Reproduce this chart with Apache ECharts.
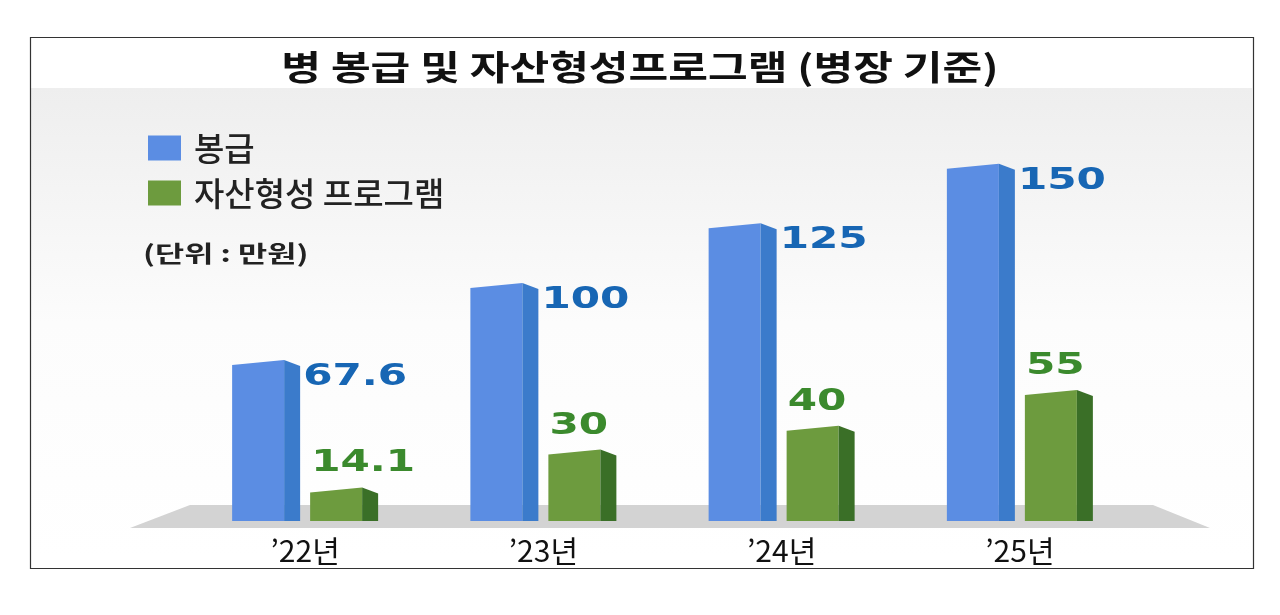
<!DOCTYPE html>
<html>
<head>
<meta charset="utf-8">
<script src="https://cdn.jsdelivr.net/npm/echarts@6/dist/echarts.min.js"></script>
<style>
  html, body { margin: 0; padding: 0; background: #fff; }
  #chart { width: 1280px; height: 615px; }
</style>
</head>
<body>
<div id="chart"></div>
<script>
// categories and values (unit: 만원)
const years = ["’22년", "’23년", "’24년", "’25년"];
const salary = [67.6, 100, 125, 150];
const assetProgram = [14.1, 30, 40, 55];
const seriesNames = ["봉급", "자산형성 프로그램"];

const KR = "'Noto Sans CJK KR', 'Noto Sans', sans-serif";

// pseudo 3D bar: front face + darker side face, label next to it
function bar3d(offset, frontColor, sideColor, labelColor, labelSide) {
  return function (params, api) {
    const idx = api.value(0);
    const peak = api.coord([idx, api.value(1)]);
    const base = api.coord([idx, 0]);
    const cx = peak[0];
    const left = cx + offset;
    const right = left + 52;
    const depth = 16;
    const y = peak[1];
    const b = base[1];
    const lbl = labelSide === "right"
      ? { x: right + depth + 3, y: y + 17 }
      : { x: left + 1, y: y - 24 };
    return {
      type: "group",
      children: [
        {
          type: "polygon",
          shape: { points: [[left, y + 5], [right, y], [right, b], [left, b]] },
          style: { fill: frontColor }
        },
        {
          type: "polygon",
          shape: { points: [[right, y], [right + depth, y + 6], [right + depth, b], [right, b]] },
          style: { fill: sideColor }
        },
        {
          type: "text",
          x: lbl.x,
          y: lbl.y,
          scaleX: 1.36,
          style: {
            text: String(api.value(1)),
            fill: labelColor,
            font: "bold 31px 'DejaVu Sans', sans-serif",
            textAlign: "left",
            textVerticalAlign: "middle"
          }
        }
      ]
    };
  };
}

const chart = echarts.init(document.getElementById("chart"));

const option = {
  backgroundColor: "#ffffff",
  animation: false,
  legend: {
    orient: "vertical",
    left: 143,
    top: 126,
    itemWidth: 33,
    itemHeight: 25,
    itemGap: 11,
    icon: "rect",
    textStyle: {
      fontFamily: KR, fontSize: 33, fontWeight: 500, color: "#222",
      lineHeight: 34, padding: [0, 0, 0, 8]
    },
    data: seriesNames
  },
  graphic: [
    {
      type: "rect",
      z: -10,
      shape: { x: 31, y: 88, width: 1221, height: 470 },
      style: {
        fill: {
          type: "linear", x: 0, y: 0, x2: 0, y2: 1,
          colorStops: [
            { offset: 0, color: "#eeeeee" },
            { offset: 0.5, color: "#fcfcfc" },
            { offset: 1, color: "#ffffff" }
          ]
        }
      }
    },
    {
      type: "polygon",
      z: -5,
      shape: { points: [[130, 528], [190, 505], [1153, 505], [1210, 528]] },
      style: { fill: "#d3d3d3" }
    },
    {
      type: "text",
      x: 640,
      y: 67,
      scaleX: 1.27,
      style: {
        text: "병 봉급 및 자산형성프로그램 (병장 기준)",
        font: "bold 34px " + KR,
        fill: "#111",
        textAlign: "center",
        textVerticalAlign: "middle"
      }
    },
    {
      type: "text",
      x: 143,
      y: 253,
      scaleX: 1.38,
      style: {
        text: "(단위 : 만원)",
        font: "bold 23px " + KR,
        fill: "#222",
        textAlign: "left",
        textVerticalAlign: "middle"
      }
    },
    {
      type: "rect",
      z: 100,
      shape: { x: 30.5, y: 37.5, width: 1223, height: 531 },
      style: { fill: "none", stroke: "#333", lineWidth: 1.2 }
    }
  ],
  grid: { left: 186, right: 141, top: 140, bottom: 94 },
  xAxis: {
    type: "category",
    data: years,
    axisLine: { show: false },
    axisTick: { show: false },
    axisLabel: { fontFamily: KR, fontSize: 30, color: "#111", margin: 15 }
  },
  yAxis: {
    type: "value",
    min: 0,
    max: 160,
    show: false,
    splitLine: { show: false }
  },
  series: [
    {
      name: seriesNames[0],
      type: "custom",
      itemStyle: { color: "#5b8de3" },
      encode: { x: 0, y: 1 },
      data: salary.map((v, i) => [i, v]),
      renderItem: bar3d(-73, "#5b8de3", "#3b7bcb", "#1766b4", "right")
    },
    {
      name: seriesNames[1],
      type: "custom",
      itemStyle: { color: "#6d9b3e" },
      encode: { x: 0, y: 1 },
      data: assetProgram.map((v, i) => [i, v]),
      renderItem: bar3d(5, "#6d9b3e", "#3a6f27", "#3b8a2d", "top")
    }
  ]
};

chart.setOption(option);
</script>
</body>
</html>
